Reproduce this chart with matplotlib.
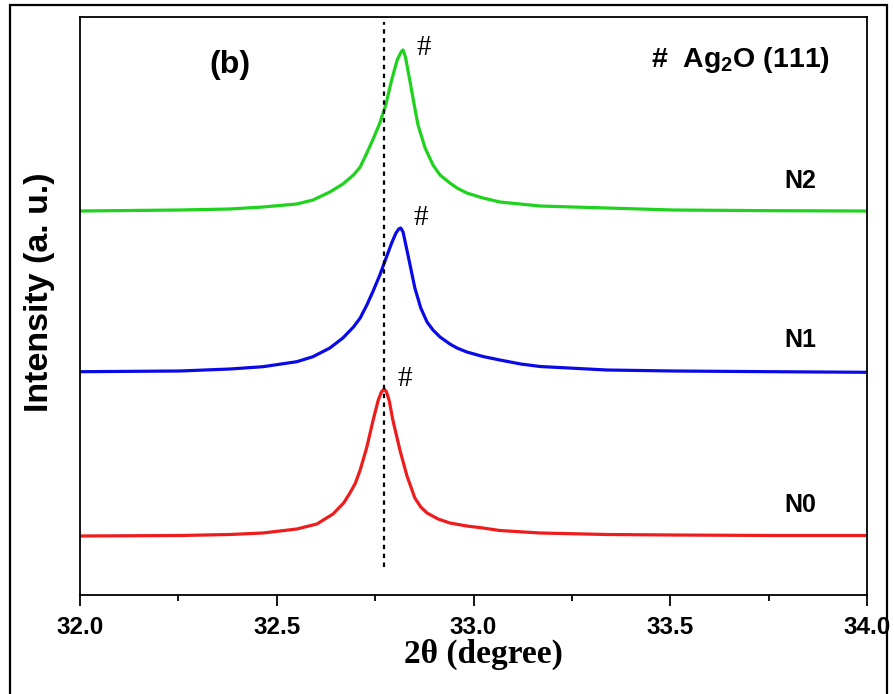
import matplotlib
matplotlib.use("Agg")
import matplotlib.pyplot as plt
from matplotlib.patches import Rectangle
from matplotlib.ticker import MultipleLocator

plt.rcParams['mathtext.fontset'] = 'custom'
plt.rcParams['mathtext.rm'] = 'Liberation Sans:bold'
plt.rcParams['mathtext.it'] = 'Liberation Sans:bold'
plt.rcParams['mathtext.bf'] = 'Liberation Sans:bold'

# ---- data (2theta in degrees, intensity in a.u.) ----
x_n2 = [32.000, 32.254, 32.381, 32.465, 32.551, 32.592, 32.635, 32.668, 32.695, 32.712,
        32.729, 32.745, 32.762, 32.777, 32.792, 32.806, 32.816, 32.821, 32.827, 32.838,
        32.848, 32.859, 32.877, 32.897, 32.915, 32.940, 32.958, 32.983, 33.024, 33.067,
        33.169, 33.339, 33.507, 33.761, 34.000]
y_n2 = [384, 385, 386, 388, 391, 395, 403, 411, 420, 428,
        442, 456, 472, 490, 515, 535, 543, 545, 538, 515,
        493, 470, 447, 430, 420, 412, 407, 402, 397, 393,
        389, 387, 385, 384.3, 384]

x_n1 = [32.000, 32.254, 32.381, 32.465, 32.551, 32.592, 32.635, 32.668, 32.695, 32.712,
        32.729, 32.745, 32.762, 32.777, 32.792, 32.803, 32.810, 32.815, 32.821, 32.834,
        32.851, 32.866, 32.882, 32.897, 32.915, 32.940, 32.958, 32.983, 33.024, 33.067,
        33.120, 33.169, 33.339, 33.507, 33.761, 34.000]
y_n1 = [223.3, 224, 226, 228.3, 233.3, 238.3, 247, 257, 268, 277,
        290, 304, 320, 336, 352, 362, 366, 367, 363, 339,
        307, 287, 273, 265, 258, 251, 247, 243, 238.5, 235,
        231, 228.5, 225, 224, 223.3, 222.7]

x_n0 = [32.000, 32.254, 32.381, 32.465, 32.551, 32.602, 32.643, 32.670, 32.686, 32.700,
        32.712, 32.729, 32.745, 32.758, 32.766, 32.773, 32.779, 32.786, 32.795, 32.813,
        32.831, 32.851, 32.866, 32.882, 32.910, 32.940, 32.983, 33.024, 33.067, 33.169,
        33.339, 33.507, 33.761, 34.000]
y_n0 = [59, 59.5, 60.5, 62, 66, 71, 81, 92, 102, 112,
        125, 148, 175, 195, 203, 206, 203, 194, 175, 145,
        119, 97, 88, 82, 76, 72, 69, 67, 64.5, 62,
        60.5, 60, 59.5, 59.5]

series_labels = ["N0", "N1", "N2"]
ref_position = 32.773
xticks = [32.0, 32.5, 33.0, 33.5, 34.0]

fig = plt.figure(figsize=(8.94, 6.94), dpi=100)
ax = fig.add_axes([80/894, 1-595/694, (867-80)/894, (595-17)/694])

ax.plot(x_n0, y_n0, color='#ee1c1c', lw=2.3)
ax.plot(x_n1, y_n1, color='#0a0ae6', lw=2.3)
ax.plot(x_n2, y_n2, color='#1ed21e', lw=2.3)
ax.plot([ref_position, ref_position], [28, 573], color='black', lw=1.6, ls=(0, (2, 2)))

ax.set_xlim(32.0, 34.0)
ax.set_ylim(0, 578)
ax.set_yticks([])
ax.set_xticks(xticks)
ax.set_xticklabels([f"{v:.1f}" for v in xticks])
ax.xaxis.set_minor_locator(MultipleLocator(0.25))
ax.tick_params(axis='x', which='major', direction='out', length=8, width=1.3, pad=7,
               labelsize=17.5)
ax.tick_params(axis='x', which='minor', direction='out', length=4, width=1.3)
for lab in ax.get_xticklabels():
    lab.set_fontfamily('Liberation Sans')
    lab.set_fontweight('bold')
for sp in ax.spines.values():
    sp.set_linewidth(1.3)

ax.set_xlabel('2θ (degree)', fontfamily='Liberation Serif', fontweight='bold',
              fontsize=24)
ax.xaxis.set_label_coords(0.513, -0.076)
ax.set_ylabel('Intensity (a. u.)', fontfamily='Liberation Sans', fontweight='bold',
              fontsize=24.5)
ax.yaxis.set_label_coords(-0.032, 0.524)

# annotations
ax.text(32.38, 530, '(b)', fontfamily='Liberation Sans', fontweight='bold',
        fontsize=23, ha='center', va='center')
ax.text(33.451, 535, r'#  Ag$_2$O (111)', fontfamily='Liberation Sans',
        fontweight='bold', fontsize=20.5, ha='left', va='center')
for lab, yy in zip(series_labels, [90, 255, 414]):
    ax.text(33.83, yy, lab, fontfamily='Liberation Sans', fontweight='bold',
            fontsize=18, ha='center', va='center')
for xx, yy in [(32.874, 547), (32.866, 377), (32.825, 216)]:
    ax.text(xx, yy, '#', fontfamily='Liberation Serif', fontsize=21,
            ha='center', va='center')

# outer frame
fig.patches.append(Rectangle((10/894, -0.02), (887-10)/894, 1-5/694+0.02,
                             transform=fig.transFigure, fill=False,
                             edgecolor='black', lw=1.6))

fig.savefig('out.png', dpi=100)
